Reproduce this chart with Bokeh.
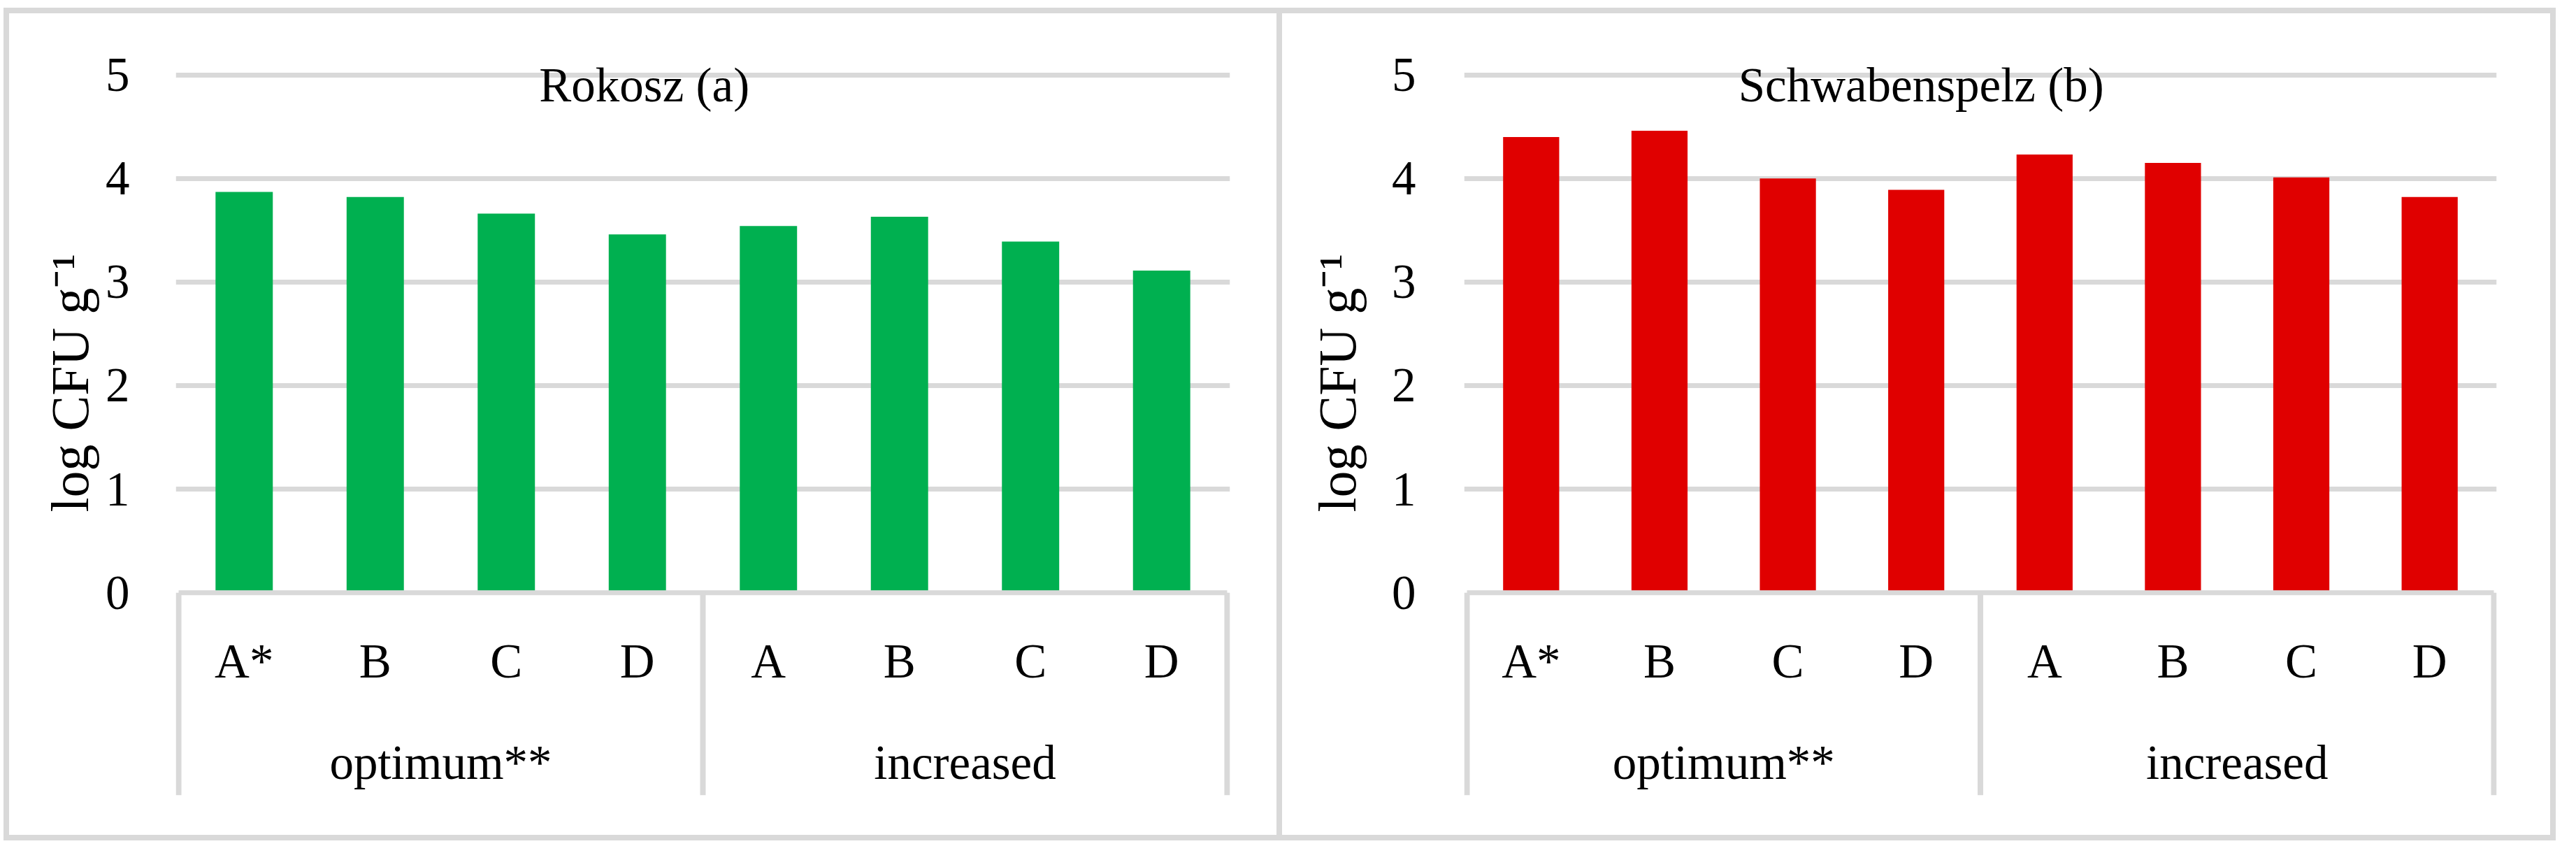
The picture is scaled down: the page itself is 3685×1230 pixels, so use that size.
from bokeh.plotting import figure
from bokeh.models import FactorRange, FixedTicker, ColumnDataSource, Title, Range1d, Spacer
from bokeh.layouts import row, column
from bokeh.core.properties import value
from bokeh.embed import file_html
from bokeh.resources import INLINE

# ---------------- data ----------------
conditions = ["optimum**", "increased"]
treatments_optimum = ["A*", "B", "C", "D"]
treatments_increased = ["A", "B", "C", "D"]
rokosz = [3.87, 3.82, 3.66, 3.46, 3.54, 3.63, 3.39, 3.11]
schwabenspelz = [4.40, 4.46, 4.00, 3.89, 4.23, 4.15, 4.01, 3.82]
y_ticks = [0, 1, 2, 3, 4, 5]
y_label = "log CFU g\u207b\u00b9"
panel_titles = ["Rokosz (a)", "Schwabenspelz (b)"]
bar_colors = ["#00B050", "#E00000"]

# ---------------- style ----------------
FONT = "Liberation Serif"
FS = "69px"
GRID = "#D9D9D9"
H = 1175
Y_START, Y_END = -1.983, 5.503
BOX_BOTTOM = -1.955
Y_INNER, Y_GROUP, Y_TITLE = -0.665, -1.64, 4.90


def make_panel(vals, title, color, width, min_left, min_right, cat_px,
               tick_standoff, ytitle_standoff, ytitle_offset, title_shift, styles):
    factors = [(conditions[0], t) for t in treatments_optimum] + \
              [(conditions[1], t) for t in treatments_increased]
    pad = 4.0 / cat_px
    xr = FactorRange(*factors, factor_padding=0, group_padding=0, subgroup_padding=0,
                     range_padding=pad, range_padding_units="absolute")
    yr = Range1d(Y_START, Y_END)
    p = figure(x_range=xr, y_range=yr, width=width, height=H,
               output_backend="svg", toolbar_location=None, title=None,
               x_axis_location=None,
               min_border_left=min_left, min_border_right=min_right,
               min_border_top=13, min_border_bottom=69,
               background_fill_color="white", border_fill_color="white")
    p.outline_line_color = None
    p.xgrid.visible = False
    p.ygrid.ticker = FixedTicker(ticks=y_ticks[1:])
    p.ygrid.grid_line_color = GRID
    p.ygrid.grid_line_width = 7

    ax = p.yaxis[0]
    ax.ticker = FixedTicker(ticks=y_ticks)
    ax.axis_line_color = None
    ax.major_tick_line_color = None
    ax.minor_tick_line_color = None
    ax.major_tick_out = 0
    ax.major_tick_in = 0
    ax.major_label_standoff = tick_standoff
    ax.major_label_text_font = FONT
    ax.major_label_text_font_size = FS
    ax.major_label_text_color = "black"

    src = ColumnDataSource(dict(x=factors, top=vals))
    p.vbar(x="x", top="top", bottom=0, width=0.437, source=src,
           fill_color=color, line_color=None)

    # category box (axis line + separators)
    g0, g1 = conditions
    left_edge = (g0, treatments_optimum[0], -0.5)
    mid_edge = (g1, treatments_increased[0], -0.5)
    right_edge = (g1, treatments_increased[-1], 0.5)
    p.segment(x0=[left_edge], y0=[0], x1=[right_edge], y1=[0],
              line_color=GRID, line_width=7)
    p.segment(x0=[left_edge, mid_edge, right_edge], y0=[0, 0, 0],
              x1=[left_edge, mid_edge, right_edge], y1=[BOX_BOTTOM] * 3,
              line_color=GRID, line_width=8)

    # category labels
    p.text(x=factors, y=[Y_INNER] * len(factors), text=[f[1] for f in factors],
           text_font=value(FONT), text_font_size=FS, text_align="center",
           text_baseline="alphabetic", text_color="black")
    group_centers = [(g0, treatments_optimum[1], 0.5), (g1, treatments_increased[1], 0.5)]
    p.text(x=group_centers, y=[Y_GROUP] * 2, text=conditions,
           text_font=value(FONT), text_font_size=FS, text_align="center",
           text_baseline="alphabetic", text_color="black")

    # panel title
    p.text(x=[(g0, treatments_optimum[-1], title_shift)], y=[Y_TITLE], text=[title],
           text_font=value(FONT), text_font_size=FS, text_align="center",
           text_baseline="alphabetic", text_color="black")

    # y axis title
    t = Title(text=y_label, align="left", vertical_align="bottom",
              offset=ytitle_offset, standoff=ytitle_standoff,
              text_font=FONT, text_font_size="76px", text_font_style="normal",
              text_color="black")
    p.add_layout(t, "left")

    p.styles = styles
    return p


BORDER = "8px solid #D9D9D9"
p1 = make_panel(rokosz, panel_titles[0], bar_colors[0], width=1813,
                min_left=238, min_right=83, cat_px=185.5,
                tick_standoff=66, ytitle_standoff=12, ytitle_offset=409,
                title_shift=0.053,
                styles={"border": BORDER, "box-sizing": "content-box"})
p2 = make_panel(schwabenspelz, panel_titles[1], bar_colors[1], width=1814,
                min_left=260, min_right=85, cat_px=182.6,
                tick_standoff=69, ytitle_standoff=66, ytitle_offset=409,
                title_shift=0.038,
                styles={"border-top": BORDER, "border-right": BORDER,
                        "border-bottom": BORDER, "border-left": "0px",
                        "box-sizing": "content-box"})

layout = column(Spacer(width=10, height=11),
                row(Spacer(width=5, height=10), p1, p2))
open("out.html", "w").write(file_html(layout, INLINE))
